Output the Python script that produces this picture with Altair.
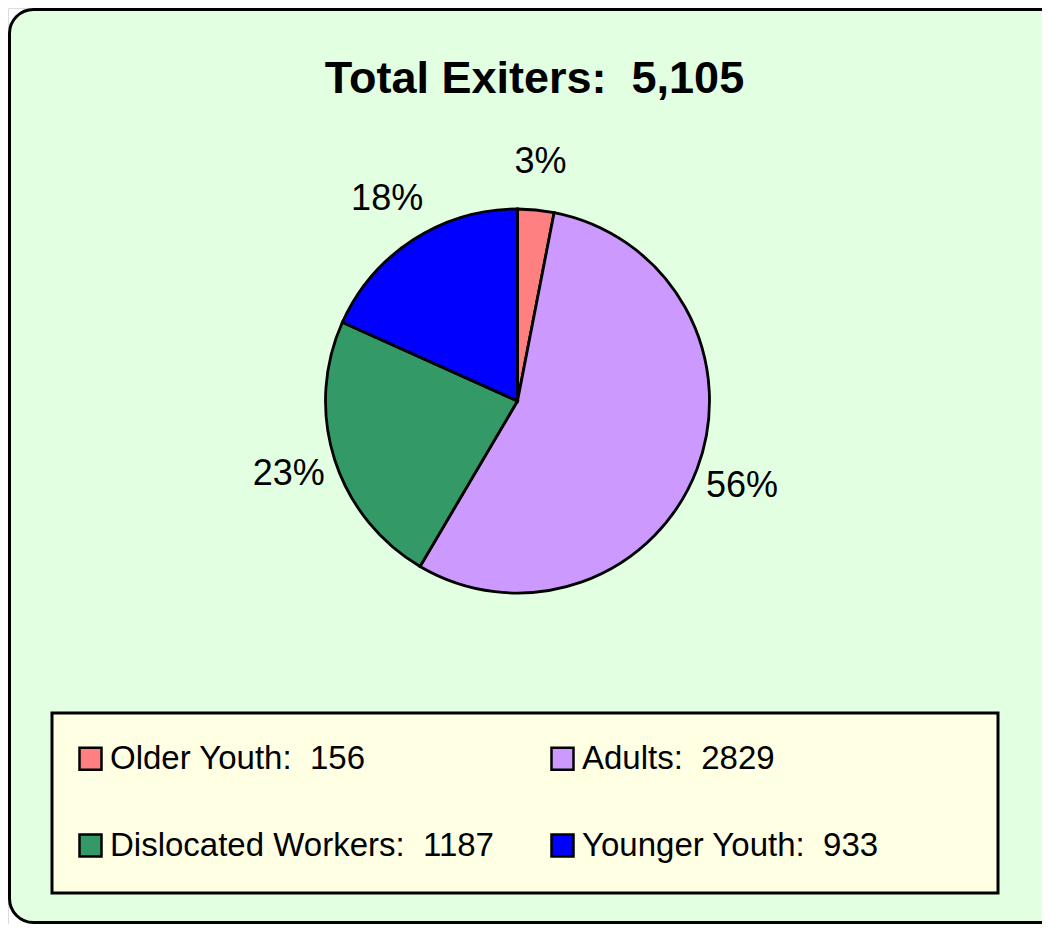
import altair as alt
import pandas as pd

# ---- data ----
CATEGORIES = ["Older Youth", "Adults", "Dislocated Workers", "Younger Youth"]
COUNTS = [156, 2829, 1187, 933]
PCT_LABELS = ["3%", "56%", "23%", "18%"]
COLORS = ["#FF8080", "#CC99FF", "#339966", "#0000FF"]
TITLE = "Total Exiters:\u00a0 5,105"
# legend reading order (two rows of two): the legend fills columns first
LEGEND_ORDER = [0, 2, 1, 3]

legend_labels = [f"{c}:\u00a0 {n}" for c, n in zip(CATEGORIES, COUNTS)]
df = pd.DataFrame({
    "category": legend_labels,
    "count": COUNTS,
    "pct": PCT_LABELS,
    "order": list(range(len(COUNTS))),
})
legend_domain = [legend_labels[i] for i in LEGEND_ORDER]
legend_range = [COLORS[i] for i in LEGEND_ORDER]

W, H = 1034, 916
CX, CY = 509.5, 393
FONT = "Liberation Sans"

one = pd.DataFrame({"k": [0]})

background = alt.Chart(one).mark_rect(
    fill="#E2FFE2", stroke="black", strokeWidth=3, cornerRadius=24
).encode(
    x=alt.value(1.5), x2=alt.value(W + 30), y=alt.value(1.5), y2=alt.value(H - 1.5)
)

legend_box = alt.Chart(one).mark_rect(
    fill="#FFFFE4", stroke="black", strokeWidth=3
).encode(
    x=alt.value(44), x2=alt.value(990), y=alt.value(705), y2=alt.value(885)
)

title = alt.Chart(pd.DataFrame({"t": [TITLE]})).mark_text(
    font=FONT, fontSize=45, fontWeight="bold", color="black", baseline="alphabetic"
).encode(
    text="t:N", x=alt.value(526.5), y=alt.value(85)
)

pie = alt.Chart(df).mark_arc(
    outerRadius=192, stroke="black", strokeWidth=2.8
).encode(
    theta=alt.Theta("count:Q", stack=True),
    order=alt.Order("order:Q"),
    color=alt.Color(
        "category:N",
        scale=alt.Scale(domain=legend_domain, range=legend_range),
        legend=alt.Legend(
            orient="none", legendX=66, legendY=734, columns=2,
            columnPadding=52, rowPadding=53, symbolType="square",
            symbolSize=484, symbolStrokeColor="black", symbolStrokeWidth=2.5,
            symbolOpacity=1, labelFont=FONT, labelFontSize=33,
            labelColor="black", labelOffset=3, labelLimit=0, title=None,
            padding=0,
        ),
    ),
    x=alt.value(CX), y=alt.value(CY),
)

labels = alt.Chart(df).mark_text(
    radius=240, font=FONT, fontSize=36, color="black"
).encode(
    theta=alt.Theta("count:Q", stack=True),
    order=alt.Order("order:Q"),
    text="pct:N",
    x=alt.value(CX), y=alt.value(CY),
)

chart = alt.layer(background, legend_box, title, pie, labels).properties(
    width=W, height=H, autosize=alt.AutoSizeParams(type="none"), padding=0
).configure_view(stroke=None).configure(background="white")

chart.save("out.html", embed_options={"renderer": "svg", "actions": False})
